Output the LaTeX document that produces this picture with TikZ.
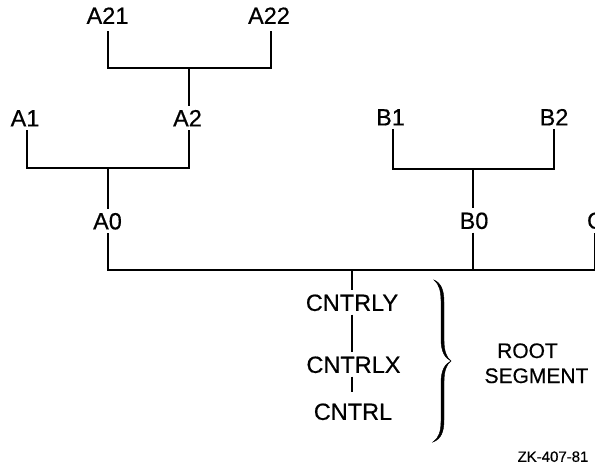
\documentclass[tikz,border=0pt]{standalone}
\usepackage{fontspec}
\setmainfont{Liberation Sans}[FakeBold=0.5]
\begin{document}
\begin{tikzpicture}[x=1pt,y=-1pt,
  lbl/.style={font=\fontsize{23.5}{28}\selectfont, inner xsep=0pt, inner ysep=3.5pt, text height=16.8pt, text depth=0pt},
  seg/.style={font=\fontsize{21}{25}\selectfont, inner sep=0pt, text height=15pt, text depth=0pt},
  ln/.style={line width=2pt},
  bus/.style={line width=2.5pt},
  bracestyle/.style={fill=black, draw=black, line width=0.4pt}]
\useasboundingbox (0,0) rectangle (595,465);
\clip (0,0) rectangle (595,465);
% labels
\node[lbl] (A21) at (107.5,15.5) {A21};
\node[lbl] (A22) at (269,15.5) {A22};
\node[lbl] (A1) at (25,118) {A1};
\node[lbl] (A2) at (187.5,118) {A2};
\node[lbl] (A0) at (107.5,221) {A0};
\node[lbl] (B1) at (390.5,117) {B1};
\node[lbl] (B2) at (554,117) {B2};
\node[lbl] (B0) at (474,220.5) {B0};
\node[lbl] (C) at (595.5,220.5) {C};
\node[lbl] (Y) at (352,302.5) {CNTRLY};
\node[lbl] (X) at (353.5,364.5) {CNTRLX};
\node[lbl] (R) at (353,411.5) {CNTRL};
\node[seg] (root) at (527.5,350.5) {ROOT};
\node[seg] (segm) at (536.5,375.5) {SEGMENT};
\node[font=\fontsize{15}{18}\selectfont, inner sep=0pt, text height=10.7pt, text depth=0pt] (zk) at (553,456.5) {ZK-407-81};
% junctions
\coordinate (jA2) at (189,68);
\coordinate (jA0) at (108,168);
\coordinate (jB0) at (473,169);
\coordinate (busL) at (108,270);
\coordinate (busR) at (610,270);
\coordinate (jR) at (352,270);
% tree
\draw[ln, shorten <=3.5pt, shorten >=3.5pt] (A21.south) |- (jA2) -| ([xshift=2pt]A22.south);
\draw[ln] (jA2) -- (jA2 |- A2.north);
\draw[ln] ([xshift=2pt]A1.south) |- (jA0) -| ([xshift=1.5pt]A2.south);
\draw[ln] (jA0) -- (jA0 |- A0.north);
\draw[ln] ([xshift=2.5pt]B1.south) |- (jB0) -| (B2.south);
\draw[ln] (jB0) -- (jB0 |- B0.north);
\draw[ln] (B0.south -| jB0) -- (jB0 |- busL);
\draw[ln] ([xshift=-1pt]C.south) -- ([xshift=-1pt]C.south |- busL);
\draw[bus] (A0.south -| busL) -- (busL) -- (busR);
% root segment chain
\draw[ln] (jR) -- (jR |- Y.north);
\draw[ln] (Y.south) -- (Y.south |- X.north);
\draw[ln, shorten >=7pt] (X.south -| Y.south) -- (R.north -| Y.south);
% brace
\path[bracestyle] (434,280) .. controls (441,283) and (444,290) .. (444,302)
  -- (444,340) .. controls (444,352) and (447,358) .. (451,361)
  .. controls (447,364) and (444,370) .. (444,382)
  -- (444,420) .. controls (444,432) and (441,439) .. (433,442)
  .. controls (439,438) and (441,431) .. (441,421)
  -- (441,383) .. controls (441,370) and (445,364) .. (451,361)
  .. controls (445,358) and (441,352) .. (441,339)
  -- (441,301) .. controls (441,291) and (439,284) .. (434,280) -- cycle;
\end{tikzpicture}
\end{document}
